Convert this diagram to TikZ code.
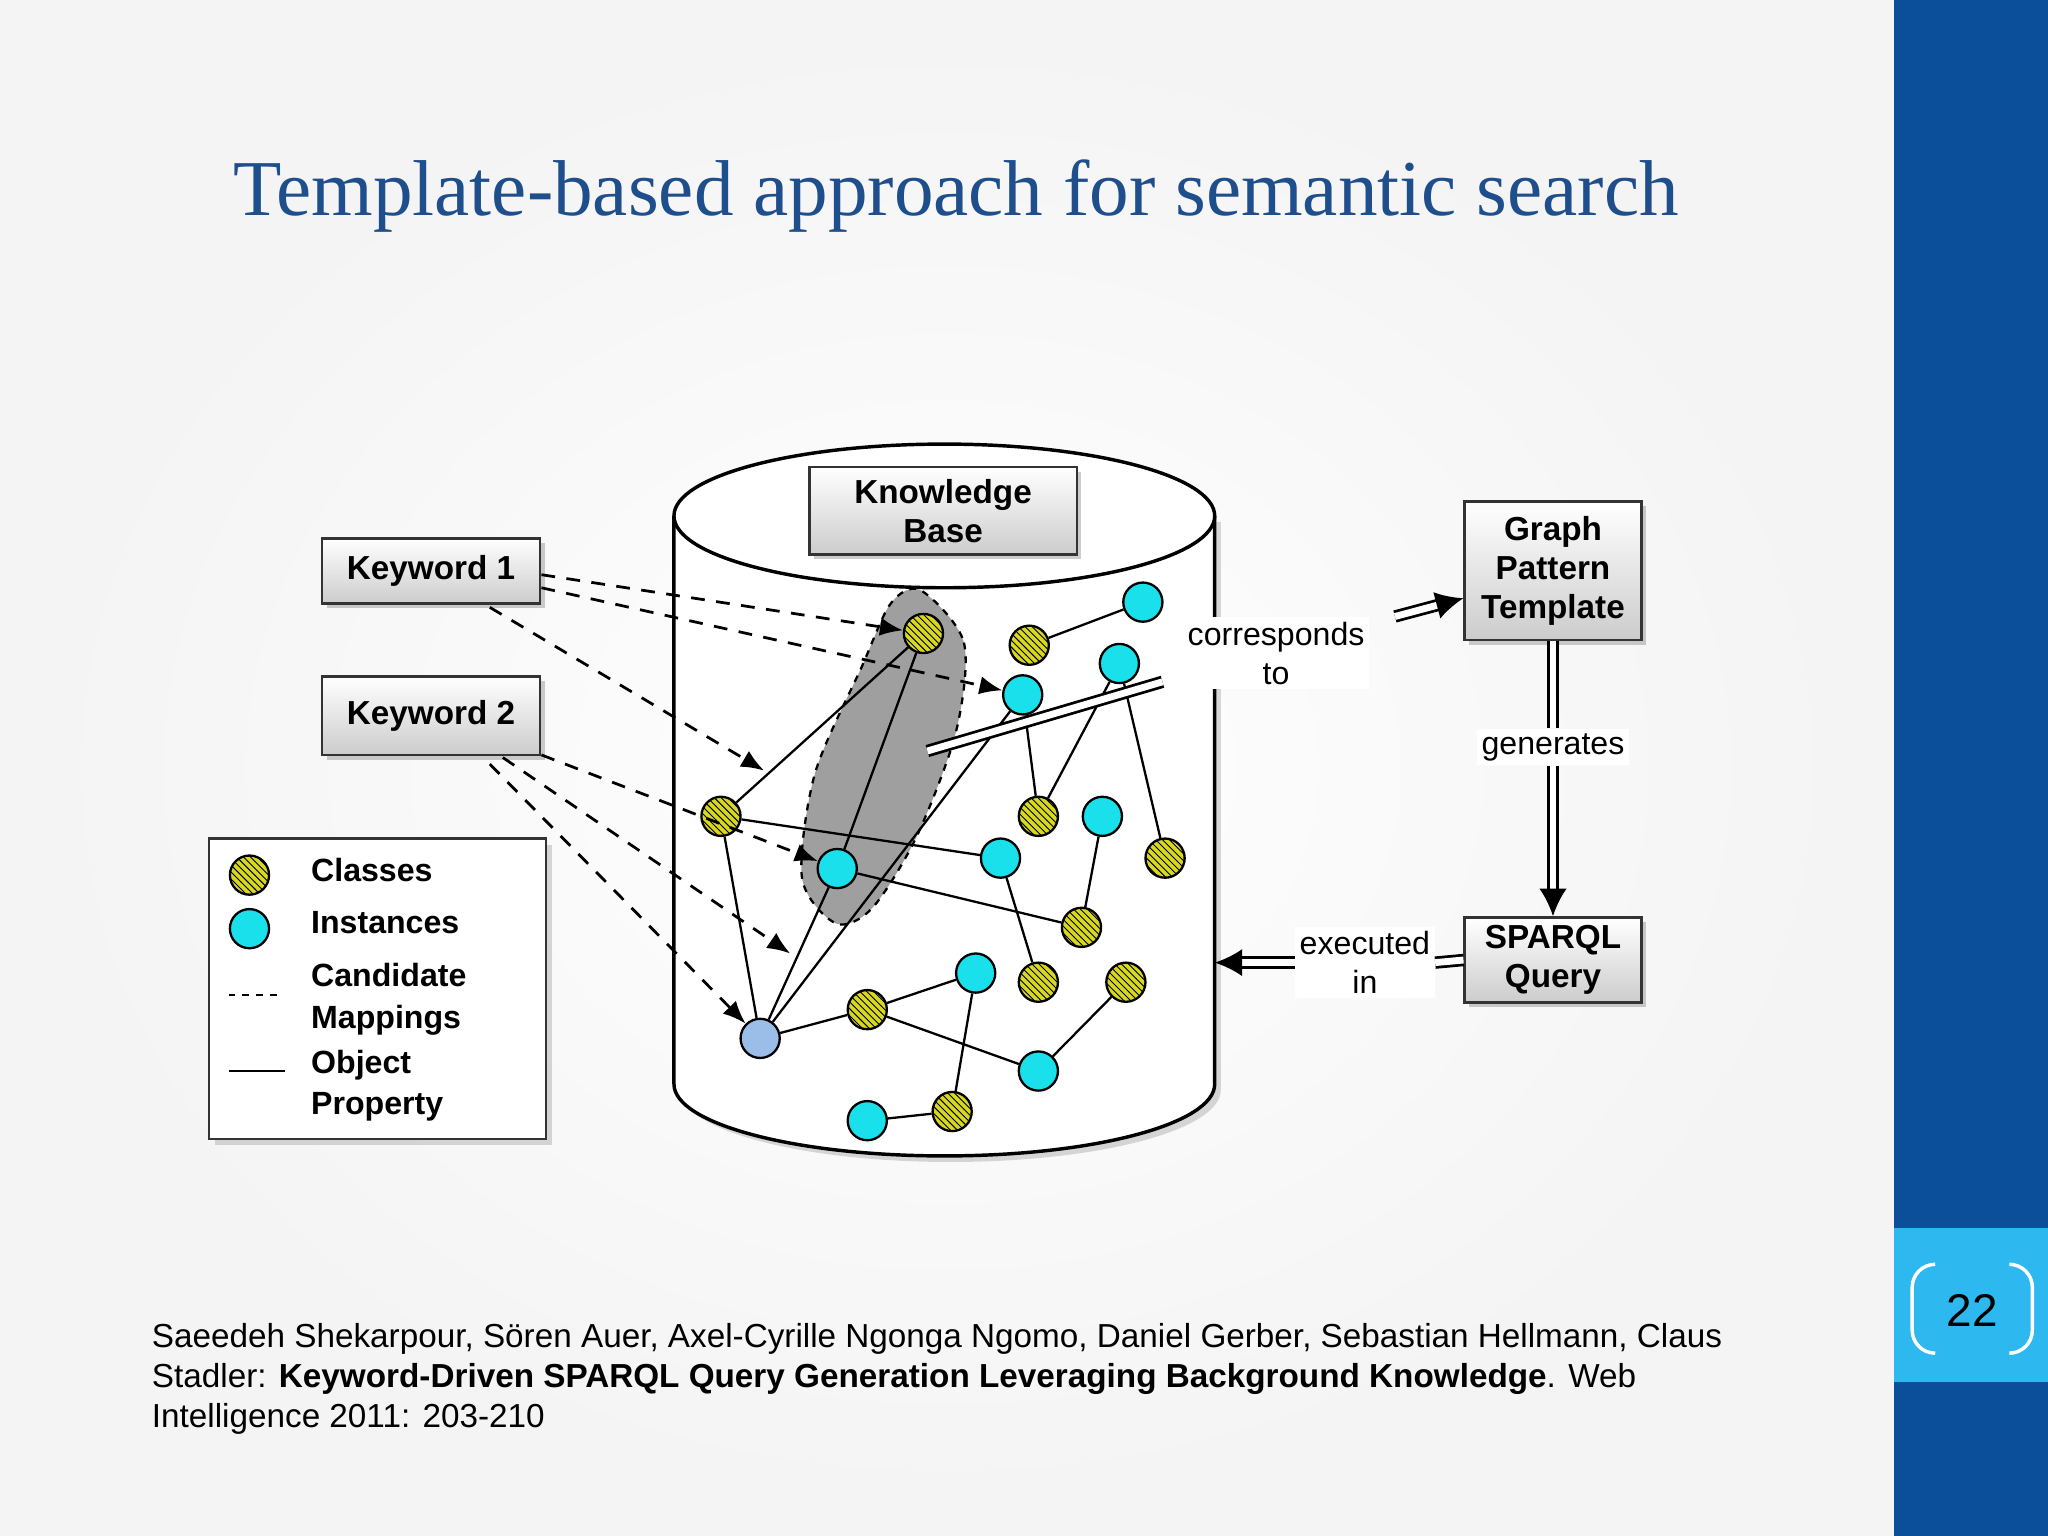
\documentclass[tikz,border=0pt]{standalone}
\usepackage{fontspec}
\setmainfont{Liberation Sans}
\newfontfamily\titlefont{Liberation Serif}
\usetikzlibrary{patterns,shadows,arrows.meta}
\definecolor{titleblue}{HTML}{1F4E8C}
\definecolor{barblue}{HTML}{0B4F9A}
\definecolor{pgblue}{HTML}{2DB8F0}
\definecolor{inst}{HTML}{19E0EA}
\definecolor{cls}{HTML}{D8D820}
\begin{document}
\begin{tikzpicture}[x=0.02cm,y=-0.02cm,
  box/.style={draw=black!80,line width=1.2pt,top color=white,bottom color=gray!40,
    drop shadow={shadow xshift=2pt,shadow yshift=-2pt,opacity=.4},
    font=\fontsize{14.5}{17}\selectfont\bfseries,align=center,inner sep=0pt},
  cl/.style={circle,draw=black,line width=1pt,minimum size=0.6cm,inner sep=0pt,
    preaction={fill=cls},pattern=north west lines},
  ins/.style={circle,draw=black,line width=1pt,minimum size=0.6cm,inner sep=0pt,fill=inst},
  obj/.style={line width=1pt},
  cand/.style={dashed,line width=1.2pt,dash pattern=on 6pt off 5pt,-{Latex[length=10pt,width=8pt]}},
  dbl/.style={double=white,double distance=3pt,line width=1.2pt},
  lbl/.style={font=\fontsize{14}{17}\selectfont,align=center,fill=white,inner sep=2pt}]
\useasboundingbox (0,0) rectangle (1568,1176);
\shade[inner color=white,outer color=gray!9] (0,0) rectangle (1450,1176);
\fill[barblue] (1450,0) rectangle (1568,1176);
\fill[pgblue] (1450,940) rectangle (1568,1058);
\draw[white,line width=1.5pt,rounded corners=10] (1480,968) -- (1464,968) -- (1464,1036) -- (1480,1036);
\draw[white,line width=1.5pt,rounded corners=10] (1540,968) -- (1556,968) -- (1556,1036) -- (1540,1036);
\node (pg) at (1510,1003) {\fontsize{20}{24}\selectfont 22};
\node[text=titleblue,font=\titlefont\fontsize{34.5}{40}\selectfont] (title) at (732,150) {Template-based approach for semantic search};
\node[anchor=north west,align=left,inner sep=0pt,font=\fontsize{14.5}{17.4}\selectfont] (ref) at (116,1013) {Saeedeh Shekarpour, Sören Auer, Axel-Cyrille Ngonga Ngomo, Daniel Gerber, Sebastian Hellmann, Claus\\ Stadler: \textbf{Keyword-Driven SPARQL Query Generation Leveraging Background Knowledge}. Web\\ Intelligence 2011: 203-210};
% cylinder
\fill[white,drop shadow={opacity=.3}] (516,395) -- (516,830) arc[start angle=180,end angle=0,x radius=207,y radius=55] -- (930,395) -- cycle;
\draw[line width=1.5pt] (516,395) -- (516,830) arc[start angle=180,end angle=0,x radius=207,y radius=55] -- (930,395);
\draw[line width=1.5pt,fill=white] (723,395) ellipse[x radius=207,y radius=55];
\node[box,minimum width=4.1cm,minimum height=1.34cm] (kb) at (722,391) {Knowledge\\Base};
% blob
\draw[dashed,line width=1pt,fill=gray!75] plot[smooth cycle] coordinates {(705,452) (738,492) (732,560) (702,640) (668,695) (640,707) (614,672) (624,592) (660,510) (682,462)};
% nodes
\node[cl] (c1) at (707,485) {};
\node[cl] (c2) at (788,494) {};
\node[ins] (i1) at (875,461) {};
\node[ins] (i2) at (857,508) {};
\node[ins] (i3) at (783,532) {};
\node[cl] (c3) at (552,625) {};
\node[ins] (i4) at (641,665) {};
\node[cl] (c4) at (795,625) {};
\node[ins] (i5) at (844,625) {};
\node[ins] (i6) at (766,657) {};
\node[cl] (c5) at (892,657) {};
\node[cl] (c6) at (828,710) {};
\node[ins] (i7) at (747,745) {};
\node[cl] (c7) at (795,752) {};
\node[cl] (c8) at (862,752) {};
\node[ins,fill=cyan!60!blue!40] (i8) at (582,795) {};
\node[cl] (c9) at (664,773) {};
\node[ins] (i9) at (795,820) {};
\node[ins] (i10) at (664,858) {};
\node[cl] (c10) at (729,851) {};
\foreach \a/\b in {c2/i1,i2/c4,i3/c4,i2/c5,c1/c3,c1/i4,c3/i8,i8/i4,i8/i3,i8/c9,c9/i7,c9/i9,i7/c10,c10/i10,i9/c8,c6/i5,i6/c7,c3/i6,i4/c6}
  \draw[obj] (\a) -- (\b);
% keywords
\node[box,minimum width=3.34cm,minimum height=1.0cm] (k1) at (330,437) {Keyword 1};
\node[box,minimum width=3.34cm,minimum height=1.2cm] (k2) at (330,548) {Keyword 2};
\draw[cand] (k1.east) ++(0,3) -- (c1);
\draw[cand] (k1.east) ++(0,13) -- (i3);
\draw[cand] (375,465) -- (585,590);
\draw[cand] (k2.east) ++(0,30) -- (i4);
\draw[cand] (385,580) -- (605,730);
\draw[cand] (375,585) -- (i8);
% right boxes
\node[box,minimum width=2.7cm,minimum height=2.12cm] (gpt) at (1189,437) {Graph\\Pattern\\Template};
\node[box,minimum width=2.7cm,minimum height=1.3cm] (sq) at (1189,735) {SPARQL\\Query};
\coordinate (bl) at (710,575);
\coordinate (be) at (890,522);
\draw[dbl] (bl) -- (be);
\node[lbl] (cor) at (977,500) {corresponds\\to};
\draw[dbl,-{Latex[length=12pt,width=12pt]}] (1068,472) -- (gpt.west|-0,458);
\node[lbl] (gen) at (1189,572) {generates};
\draw[dbl] (gpt.south) -- (gen.north);
\draw[dbl,-{Latex[length=12pt,width=12pt]}] (gen.south) -- (sq.north);
\node[lbl] (exe) at (1045,737) {executed\\in};
\coordinate (cyl) at (930,737);
\draw[dbl] (sq.west) -- (exe.east);
\draw[dbl,-{Latex[length=12pt,width=12pt]}] (exe.west) -- (cyl);
% legend
\node[draw=black!80,line width=1.2pt,fill=white,minimum width=5.16cm,minimum height=4.6cm,
  drop shadow={opacity=.3}] (leg) at (289,757) {};
\node[cl] (lc) at (191,670) {};
\node[ins] (li) at (191,711) {};
\coordinate (d1) at (175,762); \coordinate (d2) at (215,762);
\draw[dashed,line width=1pt] (d1) -- (d2);
\coordinate (s1) at (175,820); \coordinate (s2) at (218,820);
\draw[line width=1pt] (s1) -- (s2);
\begin{scope}[every node/.style={anchor=west,font=\fontsize{14}{18}\selectfont\bfseries,align=left}]
\node (t1) at (232,666) {Classes};
\node (t2) at (232,706) {Instances};
\node (t3) at (232,765) {Candidate\\Mappings};
\node (t4) at (232,831) {Object\\Property};
\end{scope}
\end{tikzpicture}
\end{document}
